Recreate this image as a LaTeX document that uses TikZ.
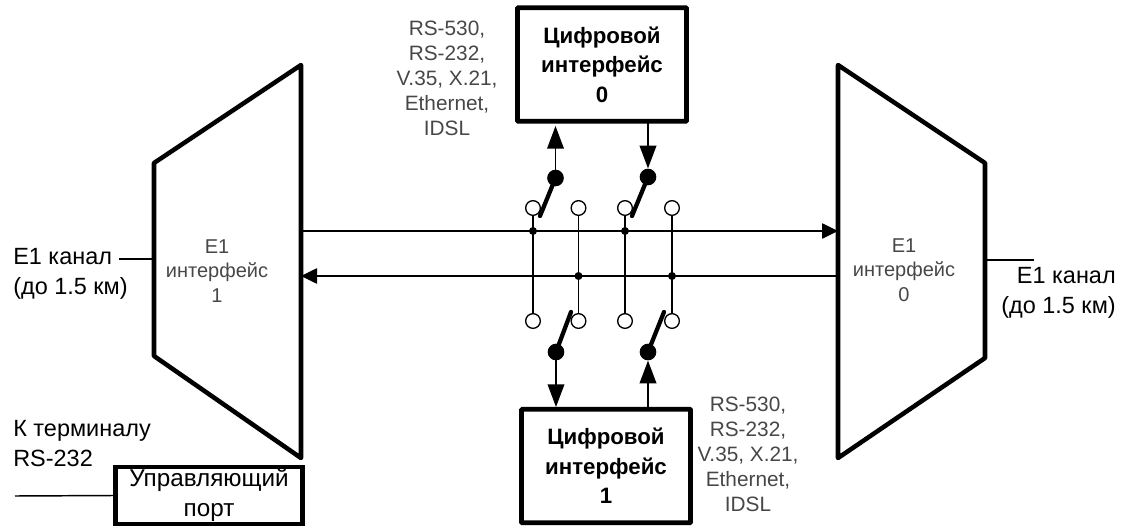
\documentclass[tikz,border=0pt]{standalone}
\usepackage{fontspec}
\setmainfont{Liberation Sans}
\usetikzlibrary{arrows.meta}
\tikzset{
  x=0.75pt,y=-0.75pt,
  bigbox/.style={draw,line width=3.6pt,rounded corners=0.6pt,minimum width=126.75pt,minimum height=85pt,inner sep=0pt,align=center,font=\bfseries\fontsize{16.7}{22}\selectfont},
  trap/.style={draw,line width=3.4pt,line join=round},
  wire/.style={draw,line width=1.1pt},
  sig/.style={wire,-{Triangle[length=12pt,width=11.5pt]}},
  sigshort/.style={wire,-{Triangle[length=17pt,width=12.5pt]}},
  pin/.style={circle,draw,fill=white,line width=1pt,minimum size=11pt,inner sep=0pt},
  jdot/.style={circle,fill=black,minimum size=6pt,inner sep=0pt},
  pivot/.style={circle,fill=black,minimum size=12.5pt,inner sep=0pt},
  blade/.style={draw,line width=3.2pt,line cap=round},
  lab/.style={inner sep=0pt,font=\fontsize{17.6}{22.5}\selectfont},
  glab/.style={align=center,inner sep=0pt,text=black!72,font=\fontsize{15.6}{18.75}\selectfont},
  ilab/.style={glab,font=\fontsize{15}{18.2}\selectfont},
  ctlbox/.style={draw,line width=3.4pt,minimum width=140.5pt,minimum height=43pt,inner sep=0pt,align=center,font=\fontsize{18.2}{22.5}\selectfont},
}
\begin{document}
\begin{tikzpicture}
\useasboundingbox (0,0) rectangle (1124,528);
% trapezoids
\draw[trap] (154,163) -- (301,65) -- (301,458) -- (154,356) -- cycle;
\draw[trap] (838,65) -- (985,163) -- (985,358) -- (838,458) -- cycle;
\coordinate (LinTop) at (301,231);
\coordinate (LinBot) at (301,276);
\coordinate (RinTop) at (838,231);
\coordinate (RinBot) at (838,276);
\coordinate (LE) at (154,259);
\coordinate (RE) at (985,260);
\coordinate (LEfree) at (119,259);
\coordinate (REfree) at (1034,260);
\coordinate (Cfree) at (15,496);
\node[ilab] (e1l) at (217,271) {E1\\интерфейс\\1};
\node[ilab] (e1r) at (904,270) {E1\\интерфейс\\0};
% boxes
\node[bigbox] (d0) at (602,64.5) {Цифровой\\интерфейс\\0};
\node[bigbox] (d1) at (606,466) {Цифровой\\интерфейс\\1};
\node[ctlbox] (ctl) at (209,495.5) {Управляющий\\порт};
% pins
\foreach \n/\x in {a/533,b/578.5,c/625,d/672}{
  \node[pin] (t\n) at (\x,208) {};
  \node[pin] (u\n) at (\x,321) {};
}
% junctions
\node[jdot] (ja) at (533,231) {};
\node[jdot] (jc) at (625,231) {};
\node[jdot] (jb) at (578.5,276) {};
\node[jdot] (jd) at (672,276) {};
% verticals
\draw[wire] (ta) -- (ua);
\draw[wire] (tb) -- (ub);
\draw[wire] (tc) -- (uc);
\draw[wire] (td) -- (ud);
% buses
\draw[sig] (LinTop) -- (RinTop);
\draw[sig] (RinBot) -- (LinBot);
% pivots
\node[pivot] (p1) at (555.5,178) {};
\node[pivot] (p2) at (648,177) {};
\node[pivot] (p3) at (556,352) {};
\node[pivot] (p4) at (648,352) {};
\coordinate (b1) at (540,216);
\coordinate (b2) at (632,216);
\coordinate (b3) at (571,312);
\coordinate (b4) at (664,312);
\draw[blade] (p1.center) -- (b1);
\draw[blade] (p2.center) -- (b2);
\draw[blade] (p3.center) -- (b3);
\draw[blade] (p4.center) -- (b4);
% arrows to boxes
\coordinate (d0a) at (555.5,126);
\coordinate (d0b) at (648,122);
\coordinate (d1a) at (556,407);
\coordinate (d1b) at (648,408);
\draw[sigshort] (p1.center) -- (d0a);
\draw[sigshort] (d0b) -- (p2.north);
\draw[sigshort] (p3.center) -- (d1a);
\draw[sigshort] (d1b) -- (p4.south);
% outer wires
\draw[wire] (LEfree) -- (LE);
\draw[wire] (RE) -- (REfree);
\draw[wire] (Cfree) -- (ctl.west);
% labels
\node[lab,align=left,anchor=west] (l1) at (13,274) {E1 канал\\(до 1.5 км)};
\node[lab,align=right,anchor=east] (l2) at (1116,293) {E1 канал\\(до 1.5 км)};
\node[lab,align=left,anchor=west] (l3) at (13,444) {К терминалу\\RS-232};
\node[glab] (g0) at (447,78) {RS-530,\\RS-232,\\V.35, X.21,\\Ethernet,\\IDSL};
\node[glab] (g1) at (748,454) {RS-530,\\RS-232,\\V.35, X.21,\\Ethernet,\\IDSL};
\end{tikzpicture}
\end{document}
